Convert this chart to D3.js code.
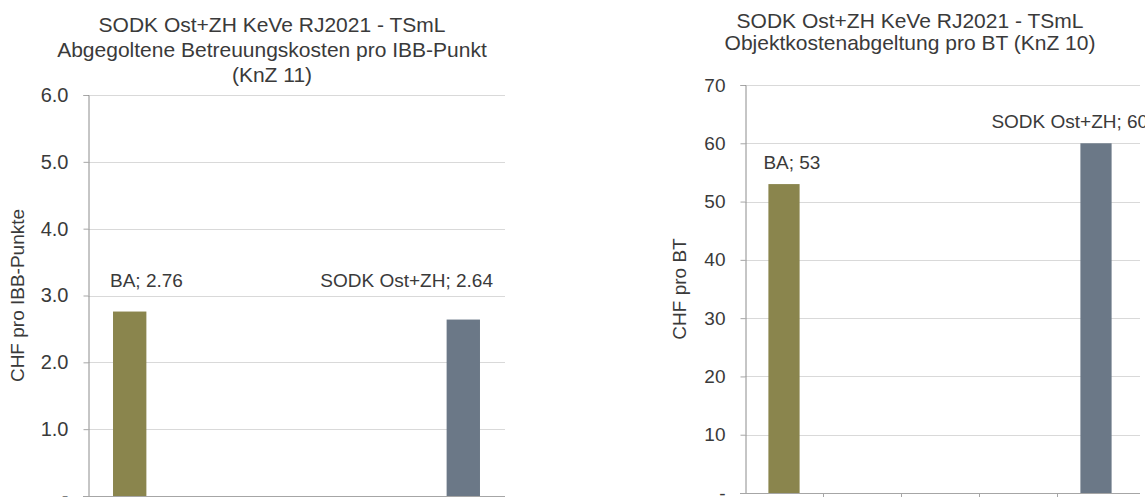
<!DOCTYPE html>
<html>
<head>
<meta charset="utf-8">
<script src="https://cdn.jsdelivr.net/npm/d3@7"></script>
<style>
  html, body { margin: 0; padding: 0; background: #ffffff; }
  svg { display: block; }
  text { font-family: "Liberation Sans", Arial, sans-serif; fill: #3a3a3a; }
</style>
</head>
<body>
<svg id="chart" width="1145" height="497"></svg>
<script>
// ---------- DATA ----------
const categories = ["BA", "K2", "K3", "K4", "SODK Ost+ZH"];
const leftValues = [2.76, null, null, null, 2.64];
const rightValues = [53, null, null, null, 60];
const leftTicks = [0, 1, 2, 3, 4, 5, 6];
const rightTicks = [0, 10, 20, 30, 40, 50, 60, 70];
const leftTitle = ["SODK Ost+ZH KeVe RJ2021 - TSmL", "Abgegoltene Betreuungskosten pro IBB-Punkt", "(KnZ 11)"];
const rightTitle = ["SODK Ost+ZH KeVe RJ2021 - TSmL", "Objektkostenabgeltung pro BT (KnZ 10)"];
const leftYLabel = "CHF pro IBB-Punkte";
const rightYLabel = "CHF pro BT";
const barColors = ["#8a854d", "#8a854d", "#8a854d", "#8a854d", "#6b7887"];

// ---------- LAYOUT / STYLE ----------
const svg = d3.select("#chart");

const panels = [
  {
    values: leftValues, ticks: leftTicks, title: leftTitle, yLabel: leftYLabel,
    fmt: v => v === 0 ? "-" : d3.format(".1f")(v),
    labelFmt: d3.format(".2f"),
    x0: 88, x1: 505, yTop: 95, yBot: 496, gridEnd: 505,
    titleX: 272, titleY: 32, titleStep: 25,
    yLabelX: 24, tickFont: 20,
    labels: [
      { i: 0, anchor: "start", ref: "left", dx: -3, dy: -25 },
      { i: 4, anchor: "end", ref: "right", dx: 13, dy: -33 }
    ]
  },
  {
    values: rightValues, ticks: rightTicks, title: rightTitle, yLabel: rightYLabel,
    fmt: v => v === 0 ? "-" : d3.format("d")(v),
    labelFmt: d3.format("d"),
    x0: 745, x1: 1135, yTop: 85, yBot: 493, gridEnd: 1140,
    titleX: 910, titleY: 28, titleStep: 22,
    yLabelX: 686, tickFont: 19,
    labels: [
      { i: 0, anchor: "start", ref: "left", dx: -5, dy: -15 },
      { i: 4, anchor: "start", ref: "left", dx: -89, dy: -15 }
    ]
  }
];

panels.forEach(p => {
  const g = svg.append("g");
  const x = d3.scaleBand().domain(categories).range([p.x0, p.x1]).padding(0);
  const y = d3.scaleLinear().domain([0, d3.max(p.ticks)]).range([p.yBot, p.yTop]);
  const bw = x.bandwidth();

  // gridlines
  g.append("g").selectAll("line").data(p.ticks.filter(t => t > 0)).join("line")
    .attr("x1", p.x0).attr("x2", p.gridEnd)
    .attr("y1", d => Math.round(y(d)) + 0.5).attr("y2", d => Math.round(y(d)) + 0.5)
    .attr("stroke", "#d9d9d9").attr("stroke-width", 1);

  // y axis
  const yAxis = d3.axisLeft(y).tickValues(p.ticks).tickFormat(p.fmt).tickSize(5).tickPadding(15);
  const ya = g.append("g").attr("transform", `translate(${p.x0 + 0.5},0)`).call(yAxis);
  ya.select(".domain").attr("stroke", "#8c8c8c");
  ya.selectAll(".tick line").attr("stroke", "#a6a6a6");
  ya.selectAll(".tick text").attr("font-size", p.tickFont).attr("fill", "#3a3a3a")
    .attr("font-family", '"Liberation Sans", Arial, sans-serif');

  // x axis
  const xa = g.append("g").attr("transform", `translate(0,${p.yBot + 0.5})`);
  xa.append("line").attr("x1", p.x0 - 5).attr("x2", p.gridEnd)
    .attr("stroke", "#a6a6a6");
  xa.selectAll("line.xt").data(categories.slice(1)).join("line").attr("class", "xt")
    .attr("x1", d => Math.round(x(d)) + 0.5).attr("x2", d => Math.round(x(d)) + 0.5)
    .attr("y1", 0).attr("y2", 6).attr("stroke", "#a6a6a6");

  // bars
  g.append("g").selectAll("rect")
    .data(categories.map((c, i) => ({ c, v: p.values[i], i })).filter(d => d.v != null))
    .join("rect")
    .attr("x", d => x(d.c) + bw * 0.3)
    .attr("width", bw * 0.4)
    .attr("y", d => y(d.v))
    .attr("height", d => y(0) - y(d.v))
    .attr("fill", d => barColors[d.i]);

  // data labels
  g.append("g").selectAll("text").data(p.labels).join("text")
    .attr("x", d => (d.ref === "left" ? x(categories[d.i]) + bw * 0.3 : x(categories[d.i]) + bw * 0.7) + d.dx)
    .attr("y", d => y(p.values[d.i]) + d.dy)
    .attr("text-anchor", d => d.anchor)
    .attr("font-size", 19)
    .text(d => `${categories[d.i]}; ${p.labelFmt(p.values[d.i])}`);

  // title
  g.append("g").selectAll("text").data(p.title).join("text")
    .attr("x", p.titleX).attr("y", (d, i) => p.titleY + i * p.titleStep)
    .attr("text-anchor", "middle").attr("font-size", 21)
    .text(d => d);

  // y label
  g.append("text")
    .attr("transform", `translate(${p.yLabelX},${(p.yTop + p.yBot) / 2}) rotate(-90)`)
    .attr("text-anchor", "middle").attr("font-size", 19)
    .text(p.yLabel);
});
</script>
</body>
</html>
